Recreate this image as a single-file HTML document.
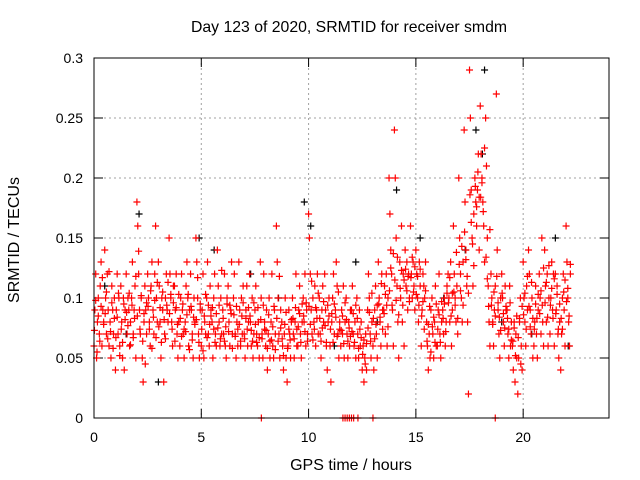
<!DOCTYPE html>
<html><head><meta charset="utf-8"><style>
body{margin:0;background:#fff}
svg{display:block;font-family:"Liberation Sans",sans-serif}
</style></head><body>
<svg id="chart" width="640" height="480" xmlns="http://www.w3.org/2000/svg">
<rect width="640" height="480" fill="#fff"/>
<text x="349" y="32" font-size="15.8" text-anchor="middle">Day 123 of 2020, SRMTID for receiver smdm</text>
<text x="351" y="470" font-size="16" text-anchor="middle">GPS time / hours</text>
<text transform="translate(19,240) rotate(-90)" font-size="16" text-anchor="middle">SRMTID / TECUs</text>
<g id="grid"></g><g id="ticks"></g><g id="black"></g><g id="red"></g>
<rect x="94" y="58" width="515" height="360" fill="none" stroke="#000" stroke-width="1"/>
</svg>
<script>
const xTicks=[0,5,10,15,20];
const yTicks=[0,0.05,0.1,0.15,0.2,0.25,0.3];
const yTickLabels=["0","0.05","0.1","0.15","0.2","0.25","0.3"];
const redStarts=[0,0.25,0.5,0.75,1,1.25,1.5,1.75,2,2.25,2.5,2.75,3,3.25,3.5,3.75,4,4.25,4.5,4.75,5,5.25,5.5,5.75,6,6.25,6.5,6.75,7,7.25,7.5,7.75,8,8.25,8.5,8.75,9,9.25,9.5,9.75,10,10.25,10.5,10.75,11,11.25,11.5,11.75,12,12.25,12.5,12.75,13,13.25,13.5,13.75,14,14.25,14.5,14.75,15,15.25,15.5,15.75,16,16.25,16.5,16.75,17,17.25,17.5,17.75,18,18.25,18.5,18.75,19,19.25,19.5,19.75,20,20.25,20.5,20.75,21,21.25,21.5,21.75,22];
const redVals=[
[0.06,0.09,0.12,0.05,0.08,0.1],[0.07,0.11,0.13,0.06,0.09,0.08],[0.14,0.1,0.07,0.12,0.09,0.06],[0.08,0.05,0.11,0.09,0.07,0.1],
[0.04,0.09,0.12,0.07,0.1,0.06],[0.11,0.08,0.05,0.1,0.04,0.09],[0.12,0.07,0.1,0.09,0.06,0.08],[0.1,0.13,0.07,0.09,0.11,0.05],
[0.18,0.16,0.12,0.09,0.07,0.1],[0.05,0.03,0.08,0.11,0.09,0.07],[0.12,0.1,0.08,0.06,0.11,0.13],[0.09,0.07,0.12,0.16,0.1,0.08],
[0.13,0.11,0.08,0.05,0.1,0.09],[0.03,0.07,0.1,0.12,0.09,0.08],[0.15,0.12,0.1,0.08,0.06,0.11],[0.11,0.09,0.12,0.07,0.05,0.08],
[0.06,0.1,0.12,0.09,0.07,0.05],[0.08,0.11,0.13,0.1,0.06,0.09],[0.12,0.09,0.07,0.05,0.1,0.08],[0.15,0.13,0.1,0.07,0.05,0.09],
[0.06,0.09,0.12,0.05,0.08,0.07],[0.1,0.13,0.07,0.06,0.11,0.09],[0.08,0.05,0.1,0.12,0.07,0.06],[0.14,0.11,0.08,0.06,0.1,0.07],
[0.09,0.07,0.12,0.06,0.05,0.1],[0.11,0.08,0.06,0.09,0.13,0.07],[0.1,0.12,0.07,0.05,0.08,0.06],[0.13,0.09,0.06,0.1,0.07,0.11],
[0.07,0.05,0.09,0.11,0.06,0.08],[0.12,0.08,0.06,0.1,0.05,0.07],[0.09,0.11,0.07,0.06,0.08,0.05],[0.13,0.1,0.07,0.05,0.12,0.08],
[0.06,0.09,0.04,0.07,0.1,0.05],[0.08,0.12,0.06,0.05,0.09,0.07],[0.16,0.13,0.1,0.07,0.05,0.09],[0.08,0.06,0.04,0.07,0.1,0.05],
[0.03,0.06,0.09,0.07,0.05,0.08],[0.1,0.07,0.05,0.08,0.12,0.06],[0.06,0.09,0.11,0.07,0.05,0.08],[0.1,0.08,0.12,0.06,0.09,0.07],
[0.17,0.15,0.12,0.09,0.07,0.1],[0.08,0.11,0.06,0.09,0.12,0.07],[0.1,0.07,0.05,0.09,0.11,0.08],[0.12,0.09,0.06,0.04,0.08,0.1],
[0.06,0.03,0.08,0.1,0.12,0.07],[0.09,0.13,0.11,0.07,0.05,0.08],[0.06,0.09,0.07,0.11,0.05,0.08],[0.1,0.07,0.05,0.08,0.06,0.09],
[0.09,0.11,0.07,0.06,0.08,0.05],[0.1,0.07,0.05,0.09,0.06,0.08],[0.04,0.06,0.03,0.05,0.07,0.04],[0.09,0.12,0.1,0.07,0.05,0.08],
[0.06,0.04,0.09,0.11,0.07,0.05],[0.13,0.1,0.08,0.06,0.12,0.09],[0.09,0.11,0.07,0.12,0.06,0.1],[0.2,0.17,0.14,0.12,0.09,0.06],
[0.24,0.2,0.15,0.11,0.08,0.05],[0.13,0.1,0.16,0.08,0.12,0.06],[0.14,0.11,0.13,0.09,0.12,0.1],[0.16,0.12,0.1,0.13,0.11,0.09],
[0.14,0.12,0.1,0.08,0.13,0.11],[0.06,0.09,0.12,0.11,0.1,0.13],[0.08,0.06,0.04,0.07,0.05,0.09],[0.1,0.07,0.05,0.08,0.11,0.06],
[0.06,0.09,0.12,0.07,0.05,0.08],[0.09,0.07,0.1,0.06,0.08,0.11],[0.12,0.1,0.08,0.13,0.06,0.09],[0.16,0.12,0.1,0.08,0.11,0.07],
[0.2,0.15,0.12,0.1,0.08,0.13],[0.24,0.18,0.14,0.11,0.08,0.02],[0.29,0.25,0.19,0.15,0.11,0.17],[0.2,0.18,0.16,0.19,0.22,0.14],
[0.26,0.22,0.2,0.18,0.16,0.13],[0.25,0.21,0.15,0.11,0.08,0.06],[0.12,0.1,0.08,0.06,0.09,0.11],[0.27,0.14,0.09,0.07,0.05,0.1],
[0.12,0.1,0.08,0.06,0.11,0.09],[0.09,0.07,0.05,0.11,0.06,0.08],[0.06,0.04,0.08,0.03,0.07,0.05],[0.02,0.05,0.08,0.1,0.06,0.04],
[0.13,0.1,0.08,0.06,0.11,0.09],[0.14,0.12,0.09,0.07,0.1,0.05],[0.06,0.08,0.11,0.07,0.05,0.09],[0.12,0.1,0.07,0.15,0.08,0.06],
[0.14,0.11,0.08,0.12,0.06,0.1],[0.07,0.1,0.13,0.09,0.12,0.06],[0.12,0.09,0.11,0.07,0.05,0.08],[0.04,0.07,0.1,0.12,0.09,0.06],
[0.16,0.13,0.1,0.08,0.06,0.12]];
const redVals2=[
[0.073,0.098,0.055,0.085],[0.064,0.093,0.117,0.078],[0.087,0.105,0.066,0.122],[0.072,0.096,0.058,0.083],
[0.067,0.084,0.104,0.052],[0.074,0.063,0.095,0.082],[0.088,0.077,0.104,0.061],[0.094,0.067,0.083,0.118],
[0.085,0.139,0.074,0.102],[0.064,0.087,0.045,0.096],[0.093,0.074,0.106,0.058],[0.084,0.098,0.067,0.113],
[0.076,0.092,0.063,0.105],[0.082,0.066,0.094,0.113],[0.087,0.103,0.074,0.096],[0.064,0.092,0.078,0.103],
[0.083,0.068,0.095,0.074],[0.072,0.086,0.103,0.057],[0.093,0.065,0.084,0.078],[0.082,0.117,0.063,0.095],
[0.074,0.056,0.085,0.103],[0.067,0.094,0.078,0.085],[0.092,0.074,0.063,0.087],[0.075,0.094,0.066,0.123],
[0.083,0.064,0.076,0.095],[0.072,0.094,0.087,0.058],[0.086,0.068,0.093,0.074],[0.078,0.064,0.085,0.096],
[0.066,0.083,0.074,0.092],[0.085,0.073,0.064,0.096],[0.078,0.063,0.092,0.067],[0.082,0.066,0.094,0.074],
[0.073,0.058,0.086,0.064],[0.065,0.076,0.093,0.057],[0.083,0.064,0.118,0.075],[0.066,0.052,0.078,0.088],
[0.058,0.074,0.065,0.082],[0.083,0.066,0.092,0.074],[0.076,0.087,0.063,0.095],[0.085,0.072,0.096,0.064],
[0.093,0.078,0.114,0.065],[0.074,0.092,0.083,0.104],[0.083,0.064,0.075,0.097],[0.077,0.063,0.094,0.085],
[0.074,0.087,0.063,0.095],[0.084,0.068,0.105,0.074],[0.073,0.085,0.062,0.096],[0.082,0.064,0.075,0.068],
[0.072,0.087,0.063,0.094],[0.083,0.058,0.074,0.067],[0.053,0.065,0.045,0.062],[0.075,0.088,0.064,0.104],
[0.083,0.066,0.078,0.094],[0.095,0.084,0.112,0.074],[0.087,0.103,0.094,0.076],[0.106,0.125,0.094,0.137],
[0.115,0.098,0.134,0.086],[0.108,0.123,0.094,0.115],[0.124,0.106,0.118,0.097],[0.117,0.134,0.105,0.126],
[0.103,0.118,0.094,0.124],[0.085,0.097,0.074,0.106],[0.064,0.078,0.093,0.055],[0.076,0.084,0.063,0.095],
[0.074,0.086,0.063,0.097],[0.083,0.095,0.072,0.104],[0.096,0.117,0.085,0.104],[0.105,0.094,0.138,0.083],
[0.128,0.106,0.143,0.094],[0.155,0.132,0.118,0.104],[0.186,0.163,0.145,0.127],[0.193,0.176,0.205,0.184],
[0.184,0.196,0.172,0.225],[0.134,0.116,0.093,0.157],[0.094,0.078,0.105,0.085],[0.118,0.096,0.084,0.073],
[0.104,0.087,0.075,0.093],[0.083,0.074,0.096,0.065],[0.064,0.075,0.052,0.085],[0.067,0.083,0.045,0.093],
[0.086,0.104,0.074,0.118],[0.093,0.076,0.113,0.083],[0.074,0.095,0.083,0.103],[0.087,0.106,0.094,0.125],
[0.096,0.113,0.084,0.127],[0.094,0.108,0.083,0.116],[0.087,0.103,0.074,0.095],[0.083,0.074,0.105,0.115],
[0.097,0.108,0.085,0.128]];
const redZeroHours=[7.8,11.6,11.7,11.8,11.9,12.0,12.1,12.3,13.0,18.7];
const blackHours=[0.5,1.5,2.1,3,4.9,5.6,7.3,8.6,9.8,10.1,11.2,12.2,13.2,14.1,15.2,16.3,17.3,17.8,18.1,18.2,19,20.4,21.5,22.1];
const blackVals=[0.11,0.07,0.17,0.03,0.15,0.14,0.12,0.1,0.18,0.16,0.06,0.13,0.08,0.19,0.15,0.1,0.14,0.24,0.22,0.29,0.08,0.07,0.15,0.06];
const X=h=>94+h*(515/24), Y=v=>418-v*1200;
const NS="http://www.w3.org/2000/svg";
function mk(tag,attrs,parent){const e=document.createElementNS(NS,tag);for(const k in attrs)e.setAttribute(k,attrs[k]);parent.appendChild(e);return e;}
const grid=document.getElementById('grid'),ticks=document.getElementById('ticks');
xTicks.forEach(t=>{const x=X(t);
 if(t>0){const g=mk('line',{x1:x,x2:x,y1:58,y2:418,stroke:'#a0a0a0','stroke-dasharray':'2,3'},grid);
 
 }
 mk('line',{x1:x,x2:x,y1:418,y2:409,stroke:'#000'},ticks);mk('line',{x1:x,x2:x,y1:58,y2:67,stroke:'#000'},ticks);
 const l=mk('text',{x:x,y:442,'font-size':14,'text-anchor':'middle'},ticks);l.textContent=t;
 
 });
yTicks.forEach((t,i)=>{const y=Y(t);
 if(t>0&&t<0.3){const g=mk('line',{x1:94,x2:609,y1:y,y2:y,stroke:'#a0a0a0','stroke-dasharray':'2,3'},grid);
 
 }
 mk('line',{x1:94,x2:103,y1:y,y2:y,stroke:'#000'},ticks);mk('line',{x1:609,x2:600,y1:y,y2:y,stroke:'#000'},ticks);
 const l=mk('text',{x:83,y:y+5,'font-size':14,'text-anchor':'end'},ticks);l.textContent=yTickLabels[i];
 
 });
function plus(h,v,col,g){const x=X(h),y=Y(v);
 return mk('path',{d:`M${x-3.5},${y}H${x+3.5}M${x},${y-3.5}V${y+3.5}`,stroke:col,'stroke-width':1.2,fill:'none'},g);}
const bg=document.getElementById('black'),rg=document.getElementById('red');
blackHours.forEach((h,i)=>{const p=plus(h,blackVals[i],'#000',bg);
 
 });
redStarts.forEach((s,i)=>{
 redVals[i].forEach((v,j)=>{const p=plus(s+j*0.04,v,'#f00',rg);
 
 });
 redVals2[i].forEach((v,j)=>{const p=plus(s+0.02+j*0.06,v,'#f00',rg);
 
 });
});
redZeroHours.forEach(h=>{const p=plus(h,0,'#f00',rg);
 
 });
</script>
</body></html>
